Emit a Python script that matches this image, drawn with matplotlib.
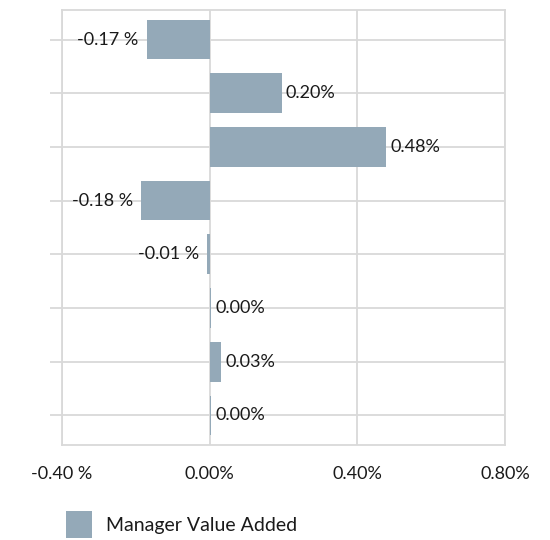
import numpy as np
import matplotlib.pyplot as plt
from matplotlib.patches import Patch

# values (top to bottom), in percent
values = [-0.17, 0.195, 0.478, -0.185, -0.006, 0.004, 0.031, 0.004]
labels = ["-0.17 %", "0.20%", "0.48%", "-0.18 %", "-0.01 %", "0.00%", "0.03%", "0.00%"]
xticks = [-0.40, 0.0, 0.40, 0.80]
xticklabels = ["-0.40 %", "0.00%", "0.40%", "0.80%"]
series_name = "Manager Value Added"

bar_color = "#94A9B8"
grid_color = "#D9D9D9"
text_color = "#1a1a1a"

plt.rcParams['font.family'] = ['Lato', 'DejaVu Sans']
plt.rcParams['font.size'] = 13

fig = plt.figure(figsize=(5.5, 5.4), dpi=100)
ax = fig.add_axes([0.1127, 0.176, 0.8055, 0.8055])

y = np.arange(len(values))
ax.barh(y, values, height=0.74, color=bar_color, zorder=3)

for yi, v, lab in zip(y, values, labels):
    if v < 0:
        ax.annotate(lab, (v, yi), xytext=(-6, 0), textcoords='offset points',
                    ha='right', va='center', color=text_color, zorder=4)
    else:
        ax.annotate(lab, (v, yi), xytext=(3, 0), textcoords='offset points',
                    ha='left', va='center', color=text_color, zorder=4)

ax.set_xlim(-0.40, 0.80)
ax.set_ylim(len(values) - 0.45, -0.55)

ax.set_xticks(xticks)
ax.set_xticklabels(xticklabels, color=text_color)
ax.set_xticks([0.0, 0.40], minor=True)
ax.tick_params(axis='x', which='major', length=0, pad=15)
ax.tick_params(axis='x', which='minor', length=8.5, width=1.3, color=grid_color)

ax.set_yticks(y)
ax.set_yticklabels([])
ax.tick_params(axis='y', length=8.5, width=1.3, color=grid_color)

ax.grid(True, color=grid_color, linewidth=1.3, zorder=0)
for s in ax.spines.values():
    s.set_color(grid_color)
    s.set_linewidth(1.3)

handles = [Patch(facecolor=bar_color, label=series_name)]
fig.legend(handles=handles, loc='center left', bbox_to_anchor=(0.105, 0.028),
           frameon=False, handlelength=1.35, handleheight=1.75,
           handletextpad=0.75, borderaxespad=0, labelcolor=text_color,
           fontsize=14)

fig.savefig("out.png", dpi=100)
